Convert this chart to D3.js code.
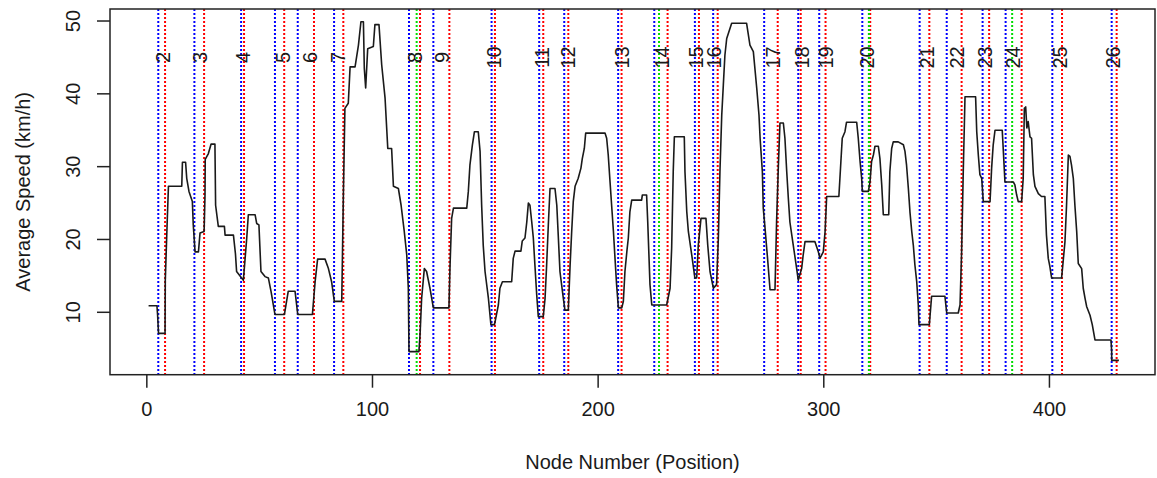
<!DOCTYPE html>
<html>
<head>
<meta charset="utf-8">
<script src="https://cdn.jsdelivr.net/npm/d3@7"></script>
<style>
  html, body { margin: 0; padding: 0; background: #fff; }
  svg { display: block; }
  text { font-family: "Liberation Sans", Arial, sans-serif; fill: #1a1a1a; }
</style>
</head>
<body>
<svg id="chart" width="1157" height="478"></svg>
<script>
// ---- data ----
const nodes = [1,4.7,5.0,5.4,8.3,8.4,9.2,9.8,15.7,16.0,17.4,17.9,18.9,20.4,20.8,21.6,23.1,23.8,25.6,26.0,26.1,27.5,28.7,30.4,30.7,31.9,34.6,34.9,38.6,39.5,40.0,43.0,44.5,45.2,48.2,48.9,49.9,50.8,52.6,54.1,55.3,57.0,61.2,62.9,65.9,67.1,73.6,74.8,75.9,79.2,80.7,82.1,83.3,86.6,87.3,88.0,89.5,90.3,92.5,94.0,95.1,96.2,96.6,97.2,98.1,100.6,101.3,103.1,104.3,105.8,107.0,108.7,109.5,111.7,112.9,114.3,115.4,116.1,116.4,120.8,121.3,122.0,123.2,124.2,125.7,127.2,134.1,134.6,135.3,136.1,142.0,142.7,143.4,144.5,145.4,147.1,147.9,148.6,149.3,150.1,151.6,152.7,154.3,156.0,156.7,157.8,161.9,162.6,163.4,166.0,166.6,167.8,168.6,169.3,170.0,170.8,171.5,172.2,173.0,173.7,175.9,176.7,177.4,178.2,178.9,181.1,181.9,182.6,183.3,184.8,185.5,187.0,187.8,188.5,189.2,190.0,191.4,192.6,193.2,194.1,194.7,203.3,204.0,204.7,205.5,206.2,207.0,207.7,208.4,209.2,210.7,211.4,212.1,213.0,213.6,214.3,215.1,219.5,219.8,221.7,222.2,223.2,224.0,230.6,232.1,232.8,233.5,234.0,238.4,238.7,239.5,240.2,241.7,243.1,243.9,244.6,245.8,248.0,248.8,249.8,251.3,252.7,253.5,254.2,255.0,255.7,256.4,257.2,259.4,266.0,267.5,269.0,270.5,271.5,272.0,273.0,273.4,274.2,275.3,276.4,278.6,279.3,280.1,280.8,282.3,283.0,283.8,284.5,285.2,286.7,288.2,288.9,290.4,291.1,291.9,296.3,297.8,298.5,300.0,300.8,301.5,306.9,307.8,308.4,309.6,310.3,314.8,315.5,316.3,317.0,317.3,320.0,320.7,321.4,322.2,322.9,324.4,325.1,325.9,326.6,329.0,329.5,330.3,331.0,333.2,335.5,336.2,336.9,337.7,338.4,339.2,339.9,340.6,341.4,342.1,342.4,347.0,348.0,353.9,354.7,359.8,360.6,361.3,362.0,362.8,367.5,368.0,368.7,369.4,370.2,370.9,373.9,374.6,375.3,376.1,379.3,379.8,380.5,384.2,384.9,385.7,386.4,387.9,388.6,389.1,389.7,390.2,390.8,391.6,392.3,393.1,393.8,395.3,396.7,398.2,398.9,399.7,400.4,401.2,405.6,406.3,407.1,407.8,408.6,409.3,410.0,410.8,411.5,412.3,413.0,414.5,415.2,416.0,416.7,418.2,419.2,420.4,427.5,427.8,427.8,431.0];
const speeds = [10.9,10.9,9.6,7.1,7.1,14.4,22.0,27.3,27.3,30.6,30.6,28.4,26.6,25.2,22.0,18.3,18.3,20.9,21.1,26.1,31.0,31.8,33.1,33.1,24.7,21.8,21.8,20.6,20.6,18.0,15.6,14.4,20.2,23.4,23.4,22.2,22.0,15.6,14.9,14.7,12.8,9.7,9.7,12.9,12.9,9.7,9.7,14.2,17.3,17.3,16.0,14.2,11.5,11.5,25.7,38.0,38.7,43.7,43.7,46.7,49.9,49.9,43.5,40.8,46.2,46.5,49.5,49.5,44.0,39.4,32.5,32.5,27.3,27.0,24.7,21.1,17.9,13.3,4.6,4.6,6.9,11.9,16.0,15.6,13.3,10.6,10.6,16.5,22.9,24.3,24.3,26.6,30.2,33.0,34.8,34.8,32.1,24.7,19.2,15.6,11.9,8.3,8.3,11.0,13.3,14.2,14.2,17.4,18.4,18.4,19.8,20.2,22.4,25.0,24.7,22.4,20.2,16.5,12.4,9.4,9.4,11.9,16.5,22.4,27.0,27.0,24.7,20.2,15.6,11.9,10.3,10.3,16.5,21.1,25.2,27.3,28.4,29.8,31.1,32.5,34.6,34.6,33.9,31.6,27.9,24.7,21.1,17.4,13.8,10.6,10.6,11.5,15.6,18.5,20.2,23.8,25.4,25.4,26.1,26.1,22.4,13.8,11.0,11.0,13.3,18.8,29.3,34.1,34.1,29.3,23.8,21.1,17.9,14.7,14.7,19.2,22.9,22.9,19.2,15.6,13.3,13.8,20.2,29.3,37.1,41.2,45.3,47.6,49.7,49.7,46.7,45.8,40.8,37.1,33.9,29.3,24.3,21.5,17.4,13.1,13.1,22.4,30.2,36.0,36.0,33.9,29.3,25.7,22.4,19.2,16.0,14.4,16.0,17.9,19.7,19.7,18.3,17.4,18.3,21.1,25.9,25.9,30.7,33.9,34.8,36.1,36.1,33.9,30.7,28.4,26.6,26.6,27.9,30.7,31.6,32.8,32.8,31.1,27.5,23.4,23.4,29.3,32.5,33.4,33.4,33.0,32.1,30.2,27.0,23.8,21.1,19.2,16.5,14.2,11.0,8.3,8.3,12.2,12.2,9.9,9.9,11.0,18.3,28.9,39.6,39.6,34.8,31.6,28.9,28.4,25.2,25.2,29.8,33.0,35.0,35.0,32.1,27.9,27.9,27.5,26.1,25.2,25.2,28.4,38.0,38.2,35.3,36.2,34.1,33.9,28.9,27.3,26.3,25.9,25.9,20.6,17.4,16.3,14.7,14.7,17.0,19.7,24.7,31.6,31.4,30.2,28.4,24.7,21.1,16.7,16.0,13.3,11.9,10.8,9.6,8.3,6.2,6.2,4.6,3.4,3.4];

const blueNodes  = [5.3,21.3,42.0,57.0,67.1,83.2,116.4,127.2,153.0,174.1,185.2,209.1,225.1,243.1,251.2,273.8,288.9,298.2,317.3,342.7,354.7,370.6,380.8,401.5,427.8];
const redNodes   = [8.3,25.6,43.3,61.1,74.3,87.3,121.3,134.3,154.5,175.9,187.0,210.6,231.0,244.9,253.2,279.8,290.0,301.0,320.8,347.0,361.3,373.5,387.9,405.8,430.0];
const greenNodes = [119.8,227.2,320.2,383.7];

const labelTexts = ["2","3","4","5","6","7","8","9","10","11","12","13","14","15","16","17","18","19","20","21","22","23","24","25","26"];
const labelNodes = [7.4,23.8,42.8,60.6,72.5,85.0,119.1,130.9,154.0,175.2,187.0,210.6,228.6,243.5,251.7,277.8,290.4,301.2,319.2,345.8,359.1,371.6,384.0,404.8,428.3];
const labelSpeed = 45;

const xTicks = [0,100,200,300,400];
const yTicks = [10,20,30,40,50];

// ---- layout ----
const svg = d3.select("#chart");
const L = 110, R = 1155, T = 9, B = 374.7;
const x = d3.scaleLinear().domain([-16.1, 447.0]).range([L, R]);
const y = d3.scaleLinear().domain([1.43, 51.65]).range([B, T]);

// vertical markers
function vlines(arr, color) {
  svg.append("g").selectAll("line").data(arr).join("line")
    .attr("x1", d => x(d)).attr("x2", d => x(d))
    .attr("y1", T).attr("y2", B)
    .attr("stroke", color).attr("stroke-width", 2)
    .attr("stroke-dasharray", "2,2");
}
vlines(blueNodes, "#0000ff");
vlines(redNodes, "#ff0000");
vlines(greenNodes, "#00dd00");

// labels
svg.append("g").selectAll("text").data(labelTexts).join("text")
  .attr("transform", (d, i) => `translate(${x(labelNodes[i])},${y(labelSpeed)}) rotate(-90)`)
  .attr("text-anchor", "middle")
  .attr("dominant-baseline", "central")
  .attr("font-size", 20)
  .text(d => d);

// data line
const pts = nodes.map((n, i) => [n, speeds[i]]);
svg.append("path")
  .datum(pts)
  .attr("fill", "none")
  .attr("stroke", "#1a1a1a")
  .attr("stroke-width", 1.6)
  .attr("stroke-linejoin", "round")
  .attr("d", d3.line().x(d => x(d[0])).y(d => y(d[1])));

// box
svg.append("rect")
  .attr("x", L).attr("y", T).attr("width", R - L).attr("height", B - T)
  .attr("fill", "none").attr("stroke", "#222").attr("stroke-width", 1.5);

// axes
const xAxis = d3.axisBottom(x).tickValues(xTicks).tickSize(13).tickPadding(14).tickFormat(d3.format("d"));
const gx = svg.append("g").attr("transform", `translate(0,${B})`).call(xAxis);
gx.select(".domain").remove();
gx.selectAll("line").attr("stroke", "#222").attr("stroke-width", 1.5);
gx.selectAll("text").attr("font-size", 20).attr("fill", "#1a1a1a")
  .attr("font-family", "Liberation Sans, Arial, sans-serif");

const yAxis = d3.axisLeft(y).tickValues(yTicks).tickSize(13).tickFormat(d3.format("d"));
const gy = svg.append("g").attr("transform", `translate(${L},0)`).call(yAxis);
gy.select(".domain").remove();
gy.selectAll("line").attr("stroke", "#222").attr("stroke-width", 1.5);
gy.selectAll("text")
  .attr("x", null).attr("dy", null)
  .attr("text-anchor", "middle")
  .attr("dominant-baseline", "central")
  .attr("transform", d => `translate(${72.5 - L},${y(d)}) rotate(-90)`)
  .attr("y", 0)
  .attr("font-size", 20).attr("fill", "#1a1a1a")
  .attr("font-family", "Liberation Sans, Arial, sans-serif");
gy.selectAll(".tick").attr("transform", null);
gy.selectAll(".tick line").attr("y1", d => y(d)).attr("y2", d => y(d)).attr("x2", -13);

// titles
svg.append("text")
  .attr("x", (L + R) / 2).attr("y", 462)
  .attr("text-anchor", "middle").attr("dominant-baseline", "central")
  .attr("font-size", 20)
  .text("Node Number (Position)");

svg.append("text")
  .attr("transform", `translate(23,${(T + B) / 2}) rotate(-90)`)
  .attr("text-anchor", "middle").attr("dominant-baseline", "central")
  .attr("font-size", 20)
  .text("Average Speed (km/h)");
</script>
</body>
</html>
